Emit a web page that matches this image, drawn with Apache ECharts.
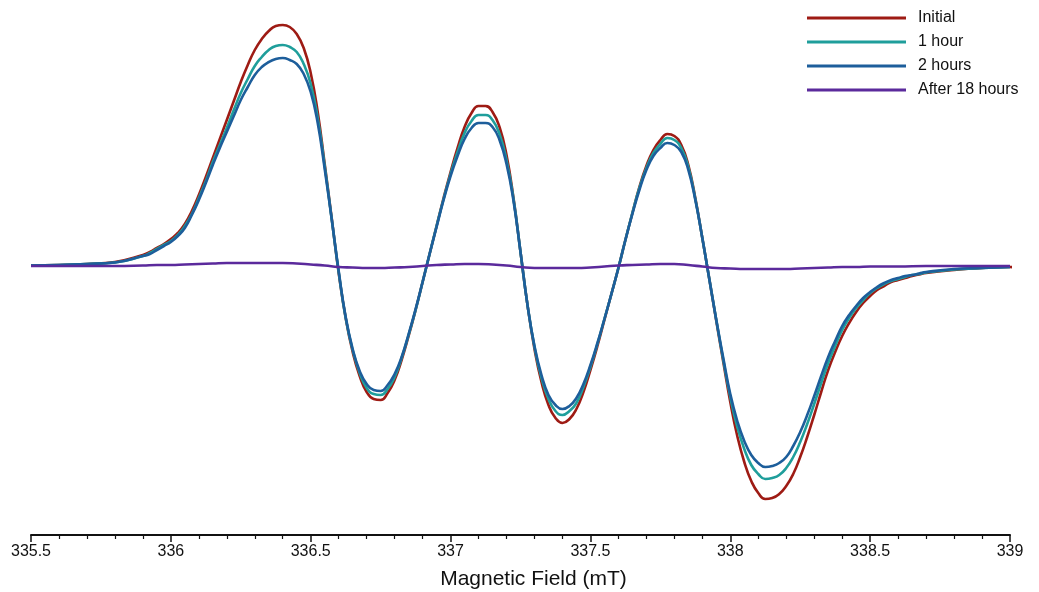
<!DOCTYPE html>
<html>
<head>
<meta charset="utf-8">
<script src="https://cdn.jsdelivr.net/npm/echarts@6/dist/echarts.min.js"></script>
<style>html,body{margin:0;padding:0;background:#fff;}#c{width:1039px;height:592px;}</style>
</head>
<body>
<div id="c"></div>
<script>
const field = [335.5,335.6,335.7,335.8,
 335.9,335.925,335.95,335.975,336.0,336.025,336.05,336.075,336.1,336.125,
 336.15,336.175,336.2,336.225,336.25,336.275,336.3,336.325,336.35,336.375,
 336.4,336.425,336.45,336.475,336.5,336.525,336.55,336.575,336.6,336.625,
 336.65,336.675,336.7,336.725,336.75,336.775,336.8,336.825,336.85,336.875,
 336.9,336.925,336.95,336.975,337.0,337.025,337.05,337.075,337.1,337.125,
 337.15,337.175,337.2,337.225,337.25,337.275,337.3,337.325,337.35,337.375,
 337.4,337.425,337.45,337.475,337.5,337.525,337.55,337.575,337.6,337.625,
 337.65,337.675,337.7,337.725,337.75,337.775,337.8,337.825,337.85,337.875,
 337.9,337.925,337.95,337.975,338.0,338.025,338.05,338.075,338.1,338.125,
 338.15,338.175,338.2,338.225,338.25,338.275,338.3,338.325,338.35,338.375,
 338.4,338.425,338.45,338.475,338.5,338.525,338.55,338.575,338.6,338.625,
 338.65,338.675,338.7,
 338.8,338.9,339.0,339.015];
const initial = [0.5,1,2,4,
 11,14,18,22,27,33,42,55,71,89,
 108,127,146,165,184,201,216,227,235,240,
 241,239,232,218,193,154,102,48,-7,-52,
 -86,-110,-126,-133,-134,-127,-114,-94,-70,-44,
 -16,12,40,68,94,118,139,153,160,160,
 154,139,111,68,14,-39,-83,-116,-139,-152,
 -157,-153,-143,-126,-104,-80,-54,-28,-2,26,
 53,79,100,116,126,132,130,121,101,68,
 28,-13,-55,-96,-136,-170,-196,-215,-227,-233,
 -232,-228,-220,-208,-191,-171,-149,-126,-104,-86,
 -70,-57,-46,-37,-30,-24,-20,-16,-14,-12,
 -10,-8.5,-7,
 -4,-2,-1,-1.5];
const hour1 = [0.5,1,2,3.5,
 10,13,17,21,25,31,40,52,68,85,
 104,121,138,156,173,187,200,209,216,220,
 221,219,214,202,182,148,100,47,-6,-52,
 -84,-107,-122,-128,-129,-123,-111,-92,-69,-44,
 -16,12,40,67,92,114,133,145,151,151,
 146,132,106,67,14,-39,-81,-112,-133,-145,
 -149,-145,-137,-121,-101,-78,-53,-28,-2,26,
 53,78,98,113,122,128,126,118,99,67,
 28,-13,-54,-94,-131,-161,-183,-199,-208,-213,
 -212,-209,-202,-191,-176,-158,-138,-117,-97,-80,
 -64,-52,-42,-34,-27,-22,-18,-15,-13,-11,
 -9,-8,-6.5,
 -3.5,-2,-1,null];
const hour2 = [0.5,1,2,3.5,
 10,12,16,20,24,30,38,51,66,83,
 101,118,134,150,166,179,191,199,204,207,
 208,206,202,192,174,143,97,47,-5,-51,
 -83,-105,-118,-124,-125,-119,-108,-91,-68,-43,
 -16,12,39,66,90,110,127,138,143,143,
 139,126,102,65,14,-39,-80,-109,-129,-139,
 -143,-140,-132,-118,-99,-77,-53,-28,-2,26,
 52,76,96,110,118,123,121,114,96,66,
 28,-13,-54,-92,-128,-155,-175,-189,-197,-201,
 -200,-197,-191,-180,-166,-149,-130,-110,-91,-75,
 -60,-49,-40,-32,-26,-21,-17,-14,-12,-10,
 -9,-7.5,-6,
 -3,-2,-1,null];
const field18 = [335.5,335.6,335.7,335.8,335.9,335.95,336.0,336.05,336.1,336.15,336.2,336.25,336.3,336.35,336.4,336.45,336.5,336.55,336.6,336.65,336.7,336.75,336.8,336.85,336.9,336.95,337.0,337.05,337.1,337.15,337.2,337.25,337.3,337.35,337.4,337.45,337.5,337.55,337.6,337.65,337.7,337.75,337.8,337.85,337.9,337.95,338.0,338.05,338.1,338.15,338.2,338.25,338.3,338.35,338.4,338.45,338.5,338.6,338.7,338.8,338.9,339.0];
const hour18 = [0,0,0,0,0.5,1,1,1.5,2,2.5,3,3,3,3,3,2.5,1.5,0.5,-1,-1.5,-2,-2,-1.5,-1,0,1,1.5,2,2,1.5,0.5,-1,-2,-2,-2,-2,-1.5,-0.5,0.5,1,1.5,2,2,1,-0.5,-2,-2.5,-3,-3,-3,-3,-2.5,-2,-1.5,-1,-1,-0.5,-0.5,0,0,0,0];

const seriesNames = ['Initial','1 hour','2 hours','After 18 hours'];
const seriesColors = ['#9e1b14','#1f9e9b','#1d5e9b','#5b2a9c'];
const seriesX = [field, field, field, field18];
const seriesValues = [initial, hour1, hour2, hour18];

const font = "'Liberation Sans', Arial, Helvetica, sans-serif";
const chart = echarts.init(document.getElementById('c'));
chart.setOption({
  animation: false,
  backgroundColor: '#fff',
  grid: {left: 31, right: 29, top: 0, bottom: 57, containLabel: false, outerBoundsMode: 'none'},
  legend: {
    orient: 'vertical', left: 802, top: 5, itemGap: 8,
    itemWidth: 99, itemHeight: 3, icon: 'rect',
    textStyle: {fontFamily: font, fontSize: 16, color: '#111', padding: [0,0,0,7], lineHeight: 16},
    data: seriesNames
  },
  xAxis: {
    type: 'value', min: 335.5, max: 339, interval: 0.5,
    name: 'Magnetic Field (mT)', nameLocation: 'middle', nameGap: 34,
    nameTextStyle: {fontFamily: font, fontSize: 21, color: '#111', padding: [0,0,0,26]},
    axisLine: {onZero: false, lineStyle: {color: '#111', width: 2}},
    axisTick: {length: 7, lineStyle: {color: '#111', width: 1.5}},
    minorTick: {show: true, splitNumber: 5, length: 4, lineStyle: {color: '#111', width: 1.2}},
    axisLabel: {fontFamily: font, fontSize: 16, color: '#111', margin: 9},
    splitLine: {show: false}
  },
  yAxis: {type: 'value', min: -269, max: 266, show: false},
  series: seriesNames.map((n, i) => ({
    name: n, type: 'line', smooth: 0.5, showSymbol: false, symbol: 'none',
    clip: i !== 0,
    color: seriesColors[i],
    lineStyle: {width: 2.6, color: seriesColors[i]},
    data: seriesX[i].map((f, k) => [f, seriesValues[i][k]])
  }))
});
</script>
</body>
</html>
